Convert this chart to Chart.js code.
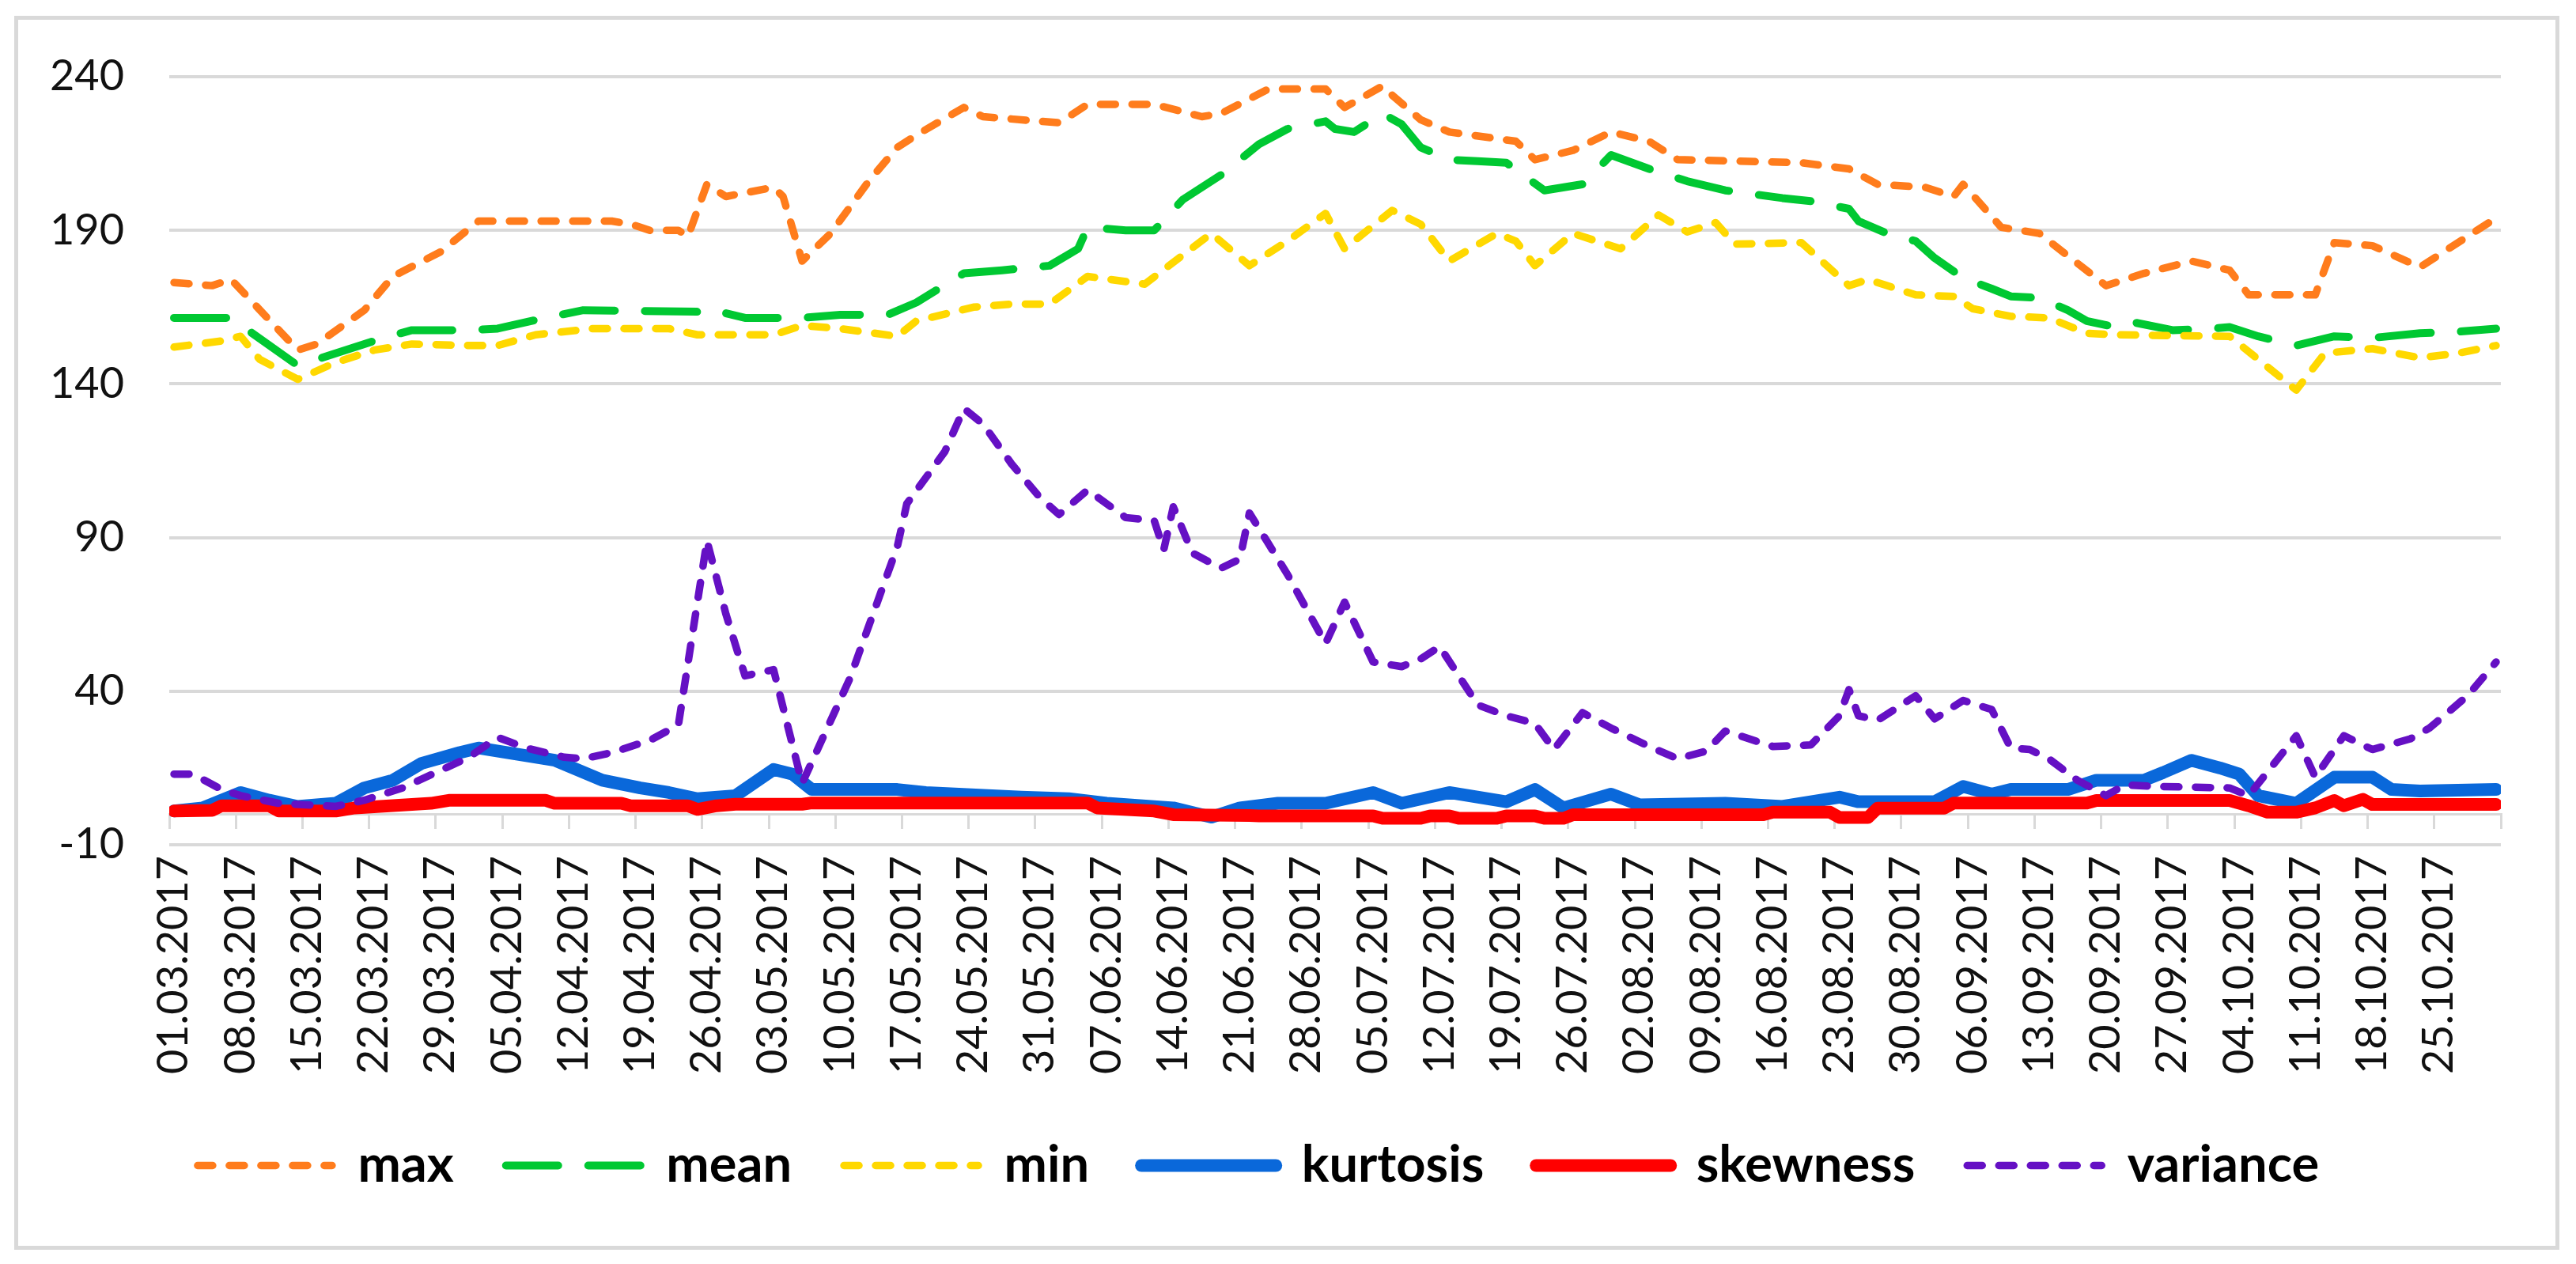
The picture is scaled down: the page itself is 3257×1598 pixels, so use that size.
<!DOCTYPE html>
<html>
<head>
<meta charset="utf-8">
<script src="https://cdn.jsdelivr.net/npm/chart.js@4.4.1/dist/chart.umd.min.js"></script>
<style>
  html, body { margin: 0; padding: 0; background: #fff; }
  #wrap { position: relative; width: 3257px; height: 1598px; }
  #frame { position: absolute; left: 18px; top: 20px; width: 3218px; height: 1560px;
           border: 5px solid #d9d9d9; box-sizing: border-box; pointer-events: none; }
</style>
</head>
<body>
<div id="wrap">
  <canvas id="chart" width="3257" height="1598"></canvas>
  <div id="frame"></div>
</div>
<script>
// Daily statistics, 01.03.2017 - 31.10.2017
// points are [day since 01.03.2017, value]

const tickLabels = [
  '01.03.2017', '08.03.2017', '15.03.2017', '22.03.2017', '29.03.2017',
  '05.04.2017', '12.04.2017', '19.04.2017', '26.04.2017', '03.05.2017',
  '10.05.2017', '17.05.2017', '24.05.2017', '31.05.2017', '07.06.2017',
  '14.06.2017', '21.06.2017', '28.06.2017', '05.07.2017', '12.07.2017',
  '19.07.2017', '26.07.2017', '02.08.2017', '09.08.2017', '16.08.2017',
  '23.08.2017', '30.08.2017', '06.09.2017', '13.09.2017', '20.09.2017',
  '27.09.2017', '04.10.2017', '11.10.2017', '18.10.2017', '25.10.2017'
];

const maxPts = [
  [0, 173], [4, 172], [6, 174], [13, 151], [15, 153], [20, 164], [23, 175], [28, 183],
  [32, 193], [46, 193], [48, 192], [50, 190], [53, 190], [54, 188], [56, 205], [58, 201],
  [63, 204], [64, 201], [66, 180], [69, 189], [73, 206], [76, 217], [78, 221], [83, 230],
  [85, 227], [93, 225], [96, 231], [103, 231], [108, 227], [110, 228], [115, 236], [121, 236],
  [123, 230], [127, 237], [128, 234], [131, 226], [134, 222], [141, 219], [143, 213], [147, 216],
  [151, 222], [155, 219], [158, 213], [171, 212], [176, 210], [179, 205], [184, 204], [187, 201],
  [188, 205], [192, 191], [196, 189], [203, 172], [207, 176], [212, 180], [216, 177], [218, 169],
  [225, 169], [227, 186], [231, 185], [236, 178], [244, 194]
];

const meanPts = [
  [0, 161.5], [6, 161.5], [8, 157], [13, 146], [16, 149], [22, 155], [25, 157.5], [31, 157.5],
  [34, 158], [39, 161.5], [43, 164], [55, 163.5], [56, 164.5], [58, 163], [60, 161.5], [66, 161.5],
  [70, 162.5], [75, 162.5], [78, 166.5], [83, 176], [87, 177], [92, 178.5], [95, 184], [96, 191],
  [100, 190], [103, 190], [106, 200], [110, 208], [114, 218], [117, 223], [121, 225.5], [122, 223],
  [124, 222], [127, 228], [129, 224.5], [131, 217], [134, 213], [137, 212.5], [140, 212], [144, 203],
  [148, 205], [151, 214.5], [155, 210], [159, 206], [163, 203], [169, 200.5], [172, 199.5], [176, 197],
  [177, 193], [180, 189], [183, 186.5], [185, 181], [188, 174.5], [191, 171], [193, 168.5], [196, 168],
  [199, 164], [201, 160.5], [204, 158.5], [206, 160], [210, 157.5], [214, 158], [216, 158.5], [219, 155.5],
  [223, 152.5], [227, 155.5], [231, 155], [236, 156.5], [240, 157], [244, 158]
];

const minPts = [
  [0, 152], [5, 154], [7, 155.5], [9, 148], [13, 141.5], [17, 147], [21, 151], [25, 153],
  [31, 152.5], [34, 152.5], [38, 156], [44, 158], [52, 158], [55, 156], [63, 156], [66, 159],
  [70, 158], [76, 155.5], [78, 160.5], [84, 165], [88, 166], [92, 166], [96, 175], [102, 172.5],
  [109, 189], [113, 178.5], [117, 186.5], [121, 195.5], [123, 184], [128, 196.5], [131, 192], [134, 180],
  [139, 189], [141, 186.5], [143, 178.5], [147, 189], [152, 184], [156, 195], [159, 189.5], [162, 192.5],
  [164, 185.5], [171, 186], [176, 172], [178, 174], [183, 169], [187, 168.5], [189, 164.5], [193, 162],
  [197, 161.5], [201, 156.5], [204, 156], [216, 155.5], [223, 138], [226, 150], [231, 151.5], [236, 148.5],
  [240, 150], [244, 152.5]
];

const kurtosisPts = [
  [0, 1], [3, 2], [5, 4.5], [7, 7], [10, 4.5], [13, 2.5], [17, 3.5], [20, 8.5],
  [23, 11], [26, 16.5], [30, 20], [32, 21.5], [36, 19.5], [40, 17.5], [45, 11], [49, 8.5],
  [52, 7], [55, 5], [59, 6], [63, 14.5], [65, 13], [67, 8], [76, 8], [79, 7],
  [89, 5.5], [94, 5], [98, 3.5], [105, 2], [109, -1], [112, 2], [116, 3.5], [121, 3.5],
  [126, 7], [129, 3.5], [134, 7], [140, 4], [143, 8], [146, 2], [151, 6.5], [154, 3],
  [163, 3.5], [169, 2.5], [175, 5.5], [177, 4], [185, 4], [188, 9], [191, 6.5], [193, 8],
  [199, 8], [202, 11], [207, 11], [209, 13.5], [212, 17.5], [215, 15], [217, 13], [219, 6],
  [223, 3.5], [227, 12], [231, 12], [233, 8], [236, 7.5], [244, 8]
];

const skewnessPts = [
  [0, 1], [4, 1.2], [5, 2.7], [10, 2.7], [11, 1], [17, 1], [19, 2], [27, 3.5],
  [29, 4.5], [39, 4.5], [40, 3.5], [47, 3.5], [48, 2.7], [54, 2.7], [55, 1.5], [57, 2.7],
  [59, 3.2], [66, 3.2], [67, 3.6], [96, 3.6], [97, 2], [103, 1], [105, -0.2], [113, -0.5],
  [114, -0.6], [126, -0.6], [127, -1.4], [131, -1.4], [132, -0.6], [134, -0.6], [135, -1.4], [139, -1.4],
  [140, -0.6], [143, -0.6], [144, -1.4], [146, -1.4], [147, -0.2], [167, -0.2], [168, 0.6], [174, 0.6],
  [175, -1.1], [178, -1.1], [179, 1.9], [186, 1.9], [187, 3.6], [201, 3.6], [202, 4.4], [216, 4.4],
  [218, 2.7], [220, 0.6], [223, 0.6], [225, 2], [227, 4.4], [228, 2.7], [230, 4.8], [231, 3.1],
  [244, 3.1]
];

const variancePts = [
  [0, 13], [2, 13], [5, 8], [7, 6], [11, 3.5], [17, 2.5], [20, 4.5], [24, 8.5],
  [31, 18.5], [34, 25], [37, 21.5], [41, 18.5], [43, 18], [46, 20], [50, 24], [53, 29],
  [56, 89], [58, 65], [60, 45], [63, 47], [66, 10], [71, 44], [76, 87], [77, 101],
  [81, 118], [83, 132], [85, 127], [88, 114], [91, 103], [93, 97.5], [96, 105.5], [100, 96.5],
  [103, 95.5], [104, 86], [105, 100], [107, 85], [110, 80], [112, 83], [113, 98], [115, 88],
  [117, 78], [121, 55.5], [123, 69], [126, 49.5], [129, 48], [131, 50.5], [133, 54.5], [137, 35.5],
  [140, 32], [143, 29.5], [145, 21], [148, 33], [151, 28], [155, 22], [158, 18], [161, 20.5],
  [163, 27], [168, 22], [172, 22.5], [175, 32], [176, 40.5], [177, 32], [179, 30.5], [183, 38.5],
  [185, 31], [188, 37], [191, 34], [193, 21.5], [195, 21], [197, 18], [200, 11], [203, 6],
  [205, 9.5], [208, 9], [216, 8.5], [218, 6], [223, 25.5], [225, 12], [228, 25.5], [231, 21],
  [235, 24.5], [237, 28], [241, 38.5], [244, 49.5]
];

const FONT = 'Lato, "Open Sans", sans-serif';
const GRID = '#d9d9d9';

// Excel draws later series on top, so lower order = drawn last
function series(label, pts, color, width, dash, order) {
  return {
    label: label,
    data: pts.map(p => ({ x: p[0], y: p[1] })),
    borderColor: color,
    backgroundColor: color,
    borderWidth: width,
    borderDash: dash,
    borderCapStyle: 'round',
    borderJoinStyle: 'round',
    pointRadius: 0,
    tension: 0,
    fill: false,
    order: order
  };
}

const datasets = [
  series('max', maxPts, '#FF7C1C', 9.5, [19, 21], 6),
  series('mean', meanPts, '#00C832', 10, [66, 38], 5),
  series('min', minPts, '#FFD800', 9.5, [19, 21], 4),
  series('kurtosis', kurtosisPts, '#0A68DA', 16, [], 3),
  series('skewness', skewnessPts, '#FF0000', 16, [], 2),
  series('variance', variancePts, '#6510C4', 9.5, [19, 21], 1)
];

// tick marks sit on the category boundaries, every 7 days plus the end
const markValues = [];
for (let i = 0; i <= 35; i++) markValues.push(i * 7 - 0.5);

// legend samples: keep each series' own dash and width
function legendLabels(chart) {
  const items = Chart.defaults.plugins.legend.labels.generateLabels(chart);
  items.forEach(item => {
    const ds = chart.data.datasets[item.datasetIndex];
    item.lineDash = ds.borderDash;
    item.lineWidth = ds.borderWidth;
    item.strokeStyle = ds.borderColor;
    item.lineCap = 'round';
  });
  return items;
}

new Chart(document.getElementById('chart'), {
  type: 'line',
  data: { datasets: datasets },
  options: {
    responsive: false,
    animation: false,
    layout: { padding: { left: 20, right: 95, top: 97, bottom: 82 } },
    plugins: {
      legend: {
        position: 'bottom',
        labels: {
          usePointStyle: true,
          pointStyle: 'line',
          pointStyleWidth: 170,
          boxHeight: 20,
          padding: 66,
          color: '#000',
          font: { family: FONT, size: 65, weight: 'bold' },
          generateLabels: legendLabels,
          sort: (a, b) => a.datasetIndex - b.datasetIndex
        }
      },
      tooltip: { enabled: false }
    },
    scales: {
      x: {
        type: 'linear',
        min: -0.5,
        max: 244.5,
        grid: { display: false },
        border: { display: false },
        afterBuildTicks: scale => {
          scale.ticks = tickLabels.map((t, i) => ({ value: i * 7 }));
        },
        afterFit: scale => { scale.height = 307; },
        ticks: {
          autoSkip: false,
          minRotation: 90,
          maxRotation: 90,
          padding: 6,
          color: '#111',
          font: { family: FONT, size: 54 },
          callback: value => tickLabels[Math.round(value / 7)]
        }
      },
      xt: {
        type: 'linear',
        axis: 'x',
        position: { y: 0 },
        min: -0.5,
        max: 244.5,
        afterBuildTicks: scale => {
          scale.ticks = markValues.map(v => ({ value: v }));
        },
        ticks: { display: false },
        grid: { drawOnChartArea: false, drawTicks: true, tickLength: 17, color: GRID, lineWidth: 3 },
        border: { display: true, color: GRID, width: 3 }
      },
      y: {
        min: -10,
        max: 240,
        afterFit: scale => { scale.width = 194; },
        ticks: {
          stepSize: 50,
          padding: 57,
          color: '#111',
          font: { family: FONT, size: 54 }
        },
        grid: { color: GRID, lineWidth: 4, drawTicks: false },
        border: { display: false }
      }
    }
  }
});
</script>
</body>
</html>
